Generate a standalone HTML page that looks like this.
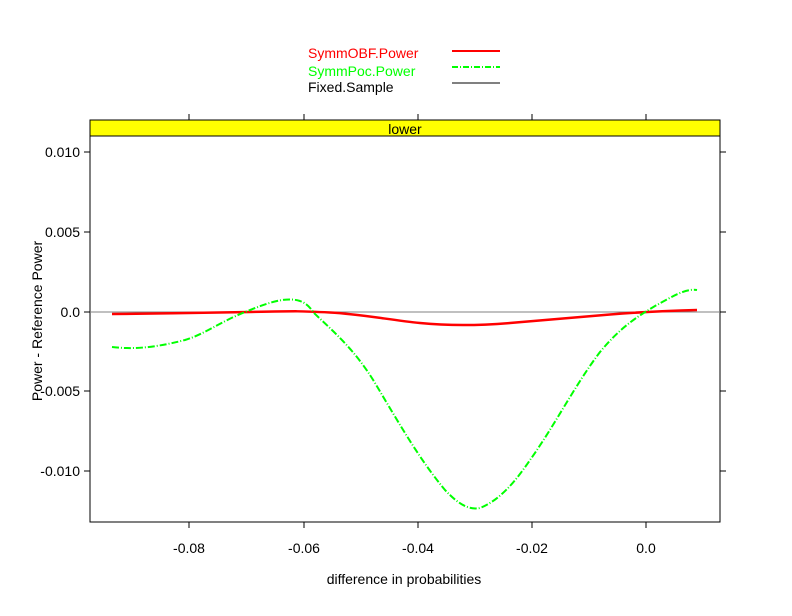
<!DOCTYPE html>
<html><head><style>
body{margin:0;background:#fff;}
svg text{font-family:"Liberation Sans",Arial,sans-serif;}
</style></head><body>
<svg width="792" height="611" xmlns="http://www.w3.org/2000/svg">
<rect width="792" height="611" fill="#fff"/>
<!-- legend -->
<text x="308" y="58" font-size="14" fill="#ff0000">SymmOBF.Power</text>
<text x="308" y="76" font-size="14" fill="#00ff00">SymmPoc.Power</text>
<text x="308" y="92" font-size="14" fill="#000">Fixed.Sample</text>
<line x1="452" y1="51" x2="500" y2="51" stroke="#ff0000" stroke-width="2"/>
<line x1="452" y1="67" x2="500" y2="67" stroke="#00ff00" stroke-width="2" stroke-dasharray="6,2,1,2"/>
<line x1="452" y1="83" x2="500" y2="83" stroke="#808080" stroke-width="2"/>
<!-- strip -->
<rect x="90" y="120" width="630" height="16" fill="#ffff00" stroke="#000" stroke-width="1"/>
<text x="405" y="134" font-size="14" text-anchor="middle">lower</text>
<!-- panel -->
<rect x="90" y="136" width="630" height="386" fill="none" stroke="#000" stroke-width="1"/>
<!-- ticks x -->
<g stroke="#000">
<line x1="189" y1="522" x2="189" y2="528"/><line x1="304" y1="522" x2="304" y2="528"/><line x1="418" y1="522" x2="418" y2="528"/><line x1="532" y1="522" x2="532" y2="528"/><line x1="646" y1="522" x2="646" y2="528"/>
<line x1="189" y1="120" x2="189" y2="114"/><line x1="304" y1="120" x2="304" y2="114"/><line x1="418" y1="120" x2="418" y2="114"/><line x1="532" y1="120" x2="532" y2="114"/><line x1="646" y1="120" x2="646" y2="114"/>
<line x1="90" y1="152" x2="84" y2="152"/><line x1="90" y1="232" x2="84" y2="232"/><line x1="90" y1="312" x2="84" y2="312"/><line x1="90" y1="391" x2="84" y2="391"/><line x1="90" y1="471" x2="84" y2="471"/>
<line x1="720" y1="152" x2="726" y2="152"/><line x1="720" y1="232" x2="726" y2="232"/><line x1="720" y1="312" x2="726" y2="312"/><line x1="720" y1="391" x2="726" y2="391"/><line x1="720" y1="471" x2="726" y2="471"/>
</g>
<g font-size="14" text-anchor="middle">
<text x="189" y="553">-0.08</text><text x="304" y="553">-0.06</text><text x="418" y="553">-0.04</text><text x="532" y="553">-0.02</text><text x="646" y="553">0.0</text>
</g>
<g font-size="14" text-anchor="end">
<text x="80" y="157">0.010</text><text x="80" y="237">0.005</text><text x="80" y="317">0.0</text><text x="80" y="396">-0.005</text><text x="80" y="476">-0.010</text>
</g>
<text x="404" y="584" font-size="14" text-anchor="middle">difference in probabilities</text>
<text transform="translate(42,321) rotate(-90)" font-size="14" text-anchor="middle">Power - Reference Power</text>
<!-- reference line -->
<line x1="90" y1="312" x2="720" y2="312" stroke="#808080" stroke-width="1"/>
<!-- red -->
<path d="M112,314 C160,313.5 200,313 250,312 S300,311 330,312.5 S390,320 420,323 S480,325.5 510,323 S580,317 610,314.5 S660,311 697,310" fill="none" stroke="#ff0000" stroke-width="2.5"/>
<!-- green -->
<path d="M112,347 C130,349 150,349 185,340 C205,334 220,322 245,312 C265,304 285,296 300,301 C308,304 310,308 315,314 C335,333 355,350 375,383 C400,425 420,460 445,490 C460,506 470,510 480,508 C500,500 515,482 530,460 C555,425 575,385 600,352 C620,328 635,318 655,306 C670,298 685,288 697,290" fill="none" stroke="#00ff00" stroke-width="2" stroke-dasharray="7,2,1,2"/>
</svg>
</body></html>
